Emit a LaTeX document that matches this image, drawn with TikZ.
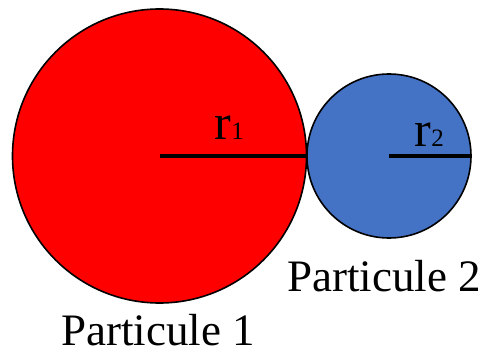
\documentclass[tikz,border=0pt]{standalone}
\usepackage{fontspec}
\setmainfont{Liberation Serif}
\usepackage{tikz}
\usetikzlibrary{positioning}
\definecolor{pred}{HTML}{FF0000}
\definecolor{pblue}{HTML}{4472C4}
\tikzset{
  pball/.style={circle,draw=black,line width=1.6pt,inner sep=0pt},
  prad/.style={line width=3.6pt,draw=black},
  plab/.style={inner sep=0pt,anchor=base west,font=\fontsize{45}{50}\selectfont},
  rlab/.style={inner sep=0pt,anchor=base west,font=\fontsize{50}{55}\selectfont}
}
\newcommand{\rsub}[1]{{\fontsize{25}{30}\selectfont #1}}

\begin{document}
\begin{tikzpicture}[x=1pt,y=1pt]
  \useasboundingbox (0,0) rectangle (490,354);
  \node[pball,fill=pred,minimum size=294pt] (b1) at (159.5,198) {};
  \node[pball,fill=pblue,minimum size=164pt] (b2) at (389,198) {};
  \draw[prad] (b1.center) -- (b1.east);
  \draw[prad] (b2.center) -- (b2.east);
  \node[rlab] (r1) at (214.5,214.5) {r\rsub{1}};
  \node[rlab] (r2) at (414.5,207.3) {r\rsub{2}};
  \node[plab] (n2) at (287.3,62.3) {Particule 2};
  \node[plab] (n1) at (61,9) {Particule 1};
\end{tikzpicture}
\end{document}
